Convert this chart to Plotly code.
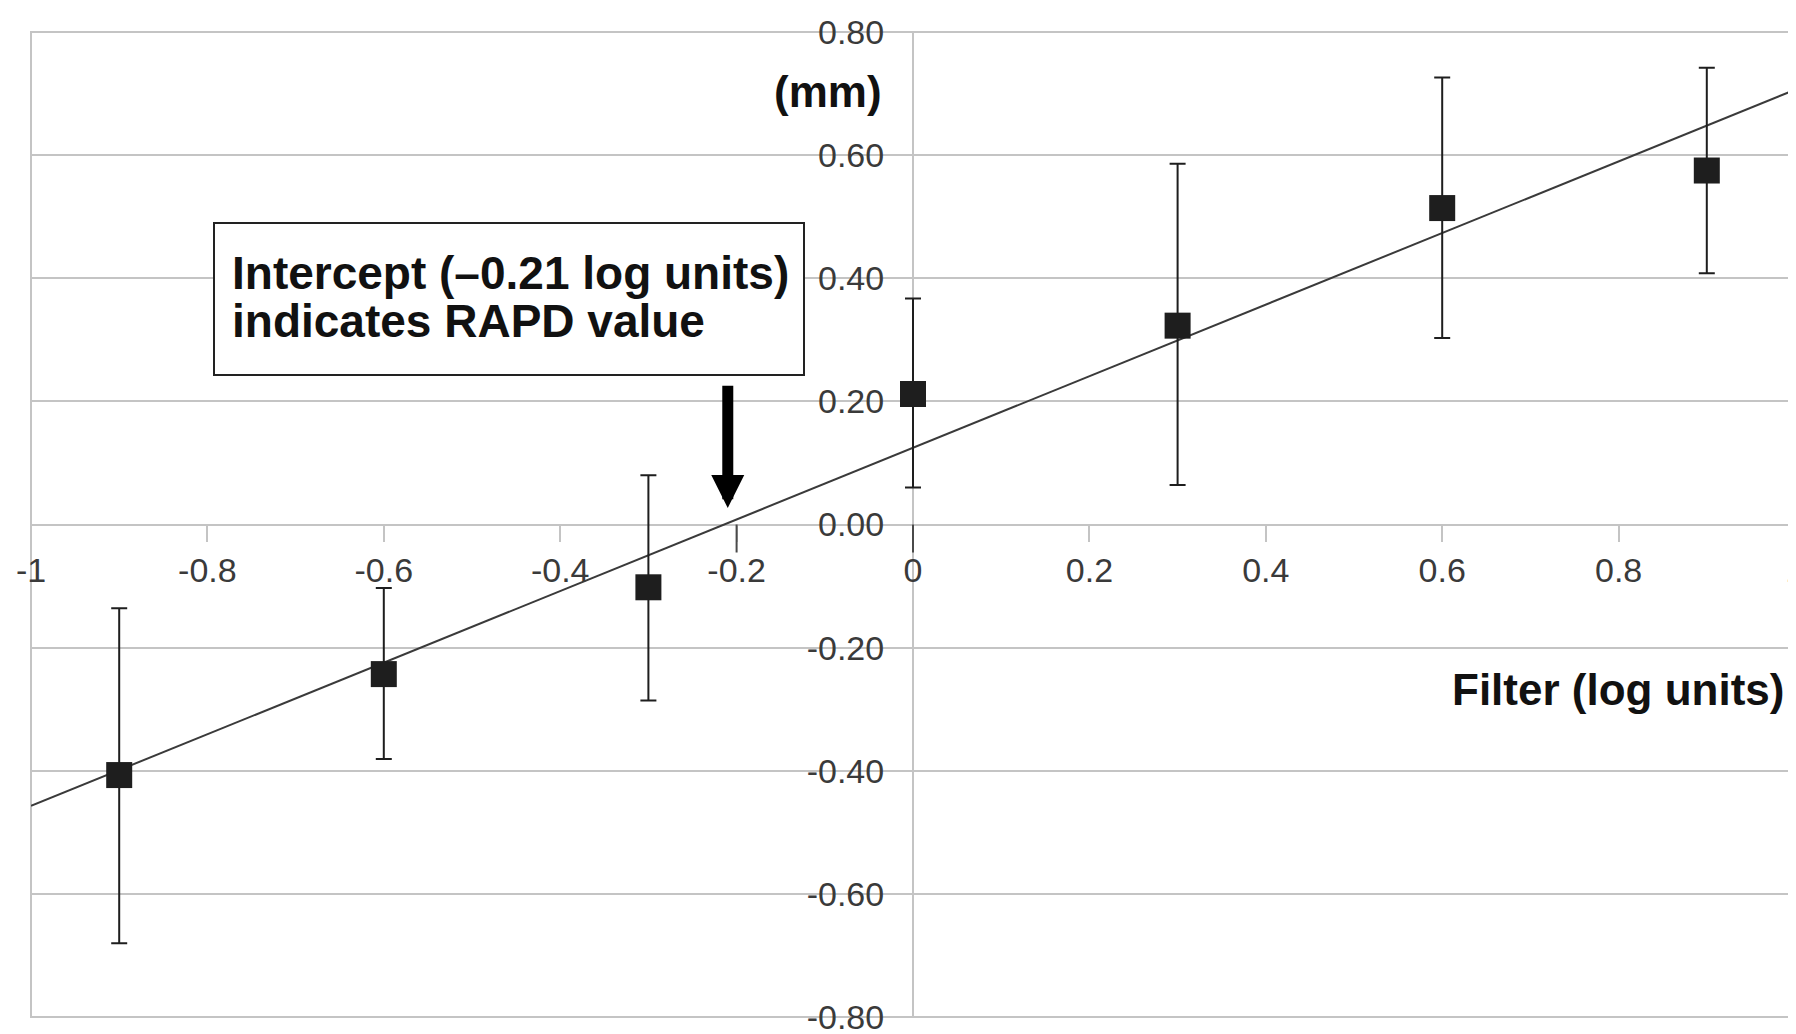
import numpy as np
import plotly.graph_objects as go

# ---- data ----
filter_log = [-0.9, -0.6, -0.3, 0.0, 0.3, 0.6, 0.9]
mean_mm = [-0.407, -0.243, -0.102, 0.212, 0.323, 0.514, 0.575]
upper_mm = [-0.136, -0.103, 0.080, 0.367, 0.586, 0.726, 0.742]
lower_mm = [-0.680, -0.381, -0.286, 0.060, 0.064, 0.303, 0.408]

x_tickvals = [-1, -0.8, -0.6, -0.4, -0.2, 0, 0.2, 0.4, 0.6, 0.8, 1]
x_ticktext = ["-1", "-0.8", "-0.6", "-0.4", "-0.2", "0", "0.2", "0.4", "0.6", "0.8", "1"]
y_tickvals = [-0.8, -0.6, -0.4, -0.2, 0, 0.2, 0.4, 0.6, 0.8]
y_ticktext = ["-0.80", "-0.60", "-0.40", "-0.20", "0.00", "0.20", "0.40", "0.60", "0.80"]
dark_tick_x = [-0.2, 0.0]

intercept_value = -0.21
box_line1 = "Intercept (\u20130.21 log units)"
box_line2 = "indicates RAPD value"
x_title = "Filter (log units)"
y_title = "(mm)"

# ---- linear trend fitted to the points ----
x = np.array(filter_log)
y = np.array(mean_mm)
slope, icpt = np.polyfit(x, y, 1)
x_line = np.array([-1.0, 1.0])
y_line = slope * x_line + icpt

err_plus = np.array(upper_mm) - y
err_minus = y - np.array(lower_mm)

fig = go.Figure()
fig.add_trace(go.Scatter(
    x=x_line, y=y_line, mode="lines",
    line=dict(color="#3a3a3a", width=2),
    hoverinfo="skip", showlegend=False,
))
fig.add_trace(go.Scatter(
    x=x, y=y, mode="markers",
    marker=dict(symbol="square", size=26, color="#1e1e1e"),
    error_y=dict(type="data", symmetric=False, array=err_plus, arrayminus=err_minus,
                 color="#1e1e1e", thickness=2, width=8),
    showlegend=False,
))

tick_font = dict(family="Liberation Sans, Arial, sans-serif", size=34, color="#3a3a3a")
bold_font = "Liberation Sans, Arial, sans-serif"
text_font = dict(family=bold_font, size=46, color="#111111", weight="bold")

shapes = [dict(type="rect", xref="paper", yref="paper", x0=0, x1=1, y0=0, y1=1,
               line=dict(color="#c4c4c4", width=2), layer="below")]
for tx in dark_tick_x:
    shapes.append(dict(type="line", xref="x", x0=tx, x1=tx, yref="y",
                       ysizemode="pixel", yanchor=0, y0=0, y1=-28,
                       line=dict(color="#4a4a4a", width=2)))

fig.update_layout(
    width=1796, height=1034,
    margin=dict(l=23, r=0, t=24, b=25),
    paper_bgcolor="white", plot_bgcolor="white",
    showlegend=False,
    xaxis=dict(
        range=[-1, 1], domain=[0, 1], anchor="free", position=0.5,
        tickvals=x_tickvals, ticktext=x_ticktext,
        ticks="outside", ticklen=16, tickwidth=2, tickcolor="#c4c4c4",
        ticklabelstandoff=0, ticklabeloverflow="allow",
        showgrid=False, zeroline=False, showline=False,
        tickfont=tick_font, layer="below traces",
    ),
    yaxis=dict(
        range=[-0.8, 0.8], domain=[0, 1], anchor="free", position=0.5,
        tickvals=y_tickvals, ticktext=y_ticktext,
        ticks="", ticklabelstandoff=21, ticklabeloverflow="allow",
        showgrid=True, gridcolor="#c4c4c4", gridwidth=2,
        zeroline=False, showline=True, linecolor="#c4c4c4", linewidth=2,
        tickfont=tick_font, layer="below traces",
    ),
    shapes=shapes,
    annotations=[
        # frame of the text box
        dict(text="", xref="x", yref="y", x=-0.4584, y=0.3663,
             xanchor="center", yanchor="middle", showarrow=False,
             width=588, height=150, borderpad=0,
             bordercolor="#222222", borderwidth=2, bgcolor="white"),
        dict(text=box_line1, xref="x", yref="y", x=-0.7745, y=0.4085,
             xanchor="left", yanchor="middle", showarrow=False, font=text_font),
        dict(text=box_line2, xref="x", yref="y", x=-0.7745, y=0.3305,
             xanchor="left", yanchor="middle", showarrow=False, font=text_font),
        dict(text="", xref="x", yref="y", x=intercept_value, y=0.027,
             axref="x", ayref="y", ax=intercept_value, ay=0.228,
             showarrow=True, arrowhead=2, arrowsize=0.6, arrowwidth=11,
             arrowcolor="#000000", standoff=0, startstandoff=0),
        dict(text=y_title, xref="x", yref="y", x=0, y=0.703, xanchor="right",
             yanchor="middle", xshift=-29, showarrow=False,
             font=dict(family=bold_font, size=44, color="#111111", weight="bold")),
        dict(text=x_title, xref="paper", yref="y", x=0.995, y=-0.268, xanchor="right",
             yanchor="middle", showarrow=False,
             font=dict(family=bold_font, size=44, color="#111111", weight="bold")),
    ],
)

fig.write_html("out.html", config={"displayModeBar": False})
